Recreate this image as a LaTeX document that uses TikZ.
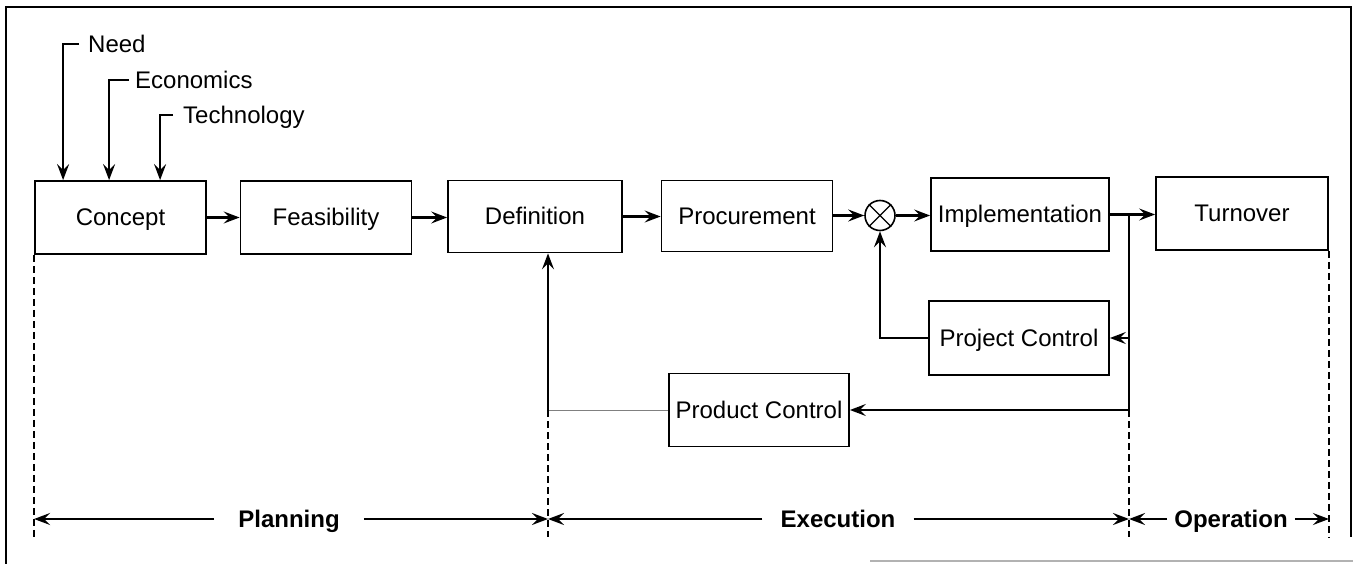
\documentclass[tikz,border=0pt]{standalone}
\usepackage{fontspec}
\setmainfont{Liberation Sans}
\usetikzlibrary{arrows.meta,calc}
\begin{document}
\begin{tikzpicture}[x=1pt,y=-1pt,
  every node/.style={font=\fontsize{24}{28}\selectfont,text height=17pt,text depth=0pt},
  stagebox/.style={draw,line width=1.8pt,inner sep=0pt,minimum height=73pt},
  lbl/.style={inner sep=0pt,anchor=west},
  phase/.style={inner ysep=0pt,font=\fontsize{24}{28}\selectfont\bfseries},
  arr/.style={line width=2.2pt,-{Stealth[length=16pt,width=12pt,inset=6pt]}},
  plain/.style={line width=2.2pt},
  thinline/.style={line width=1pt,gray},
  bound/.style={line width=2pt,dash pattern=on 7pt off 4pt}]
\useasboundingbox (0,0) rectangle (1353,564);
% frame
\draw[line width=2pt] (6,564) -- (6,7) -- (1351,7) -- (1351,537);
\draw[gray!60,line width=1.2pt] (870,561) -- (1353,561);
% boxes
\node[stagebox,minimum width=171pt] (concept) at (120.5,217.5) {Concept};
\node[stagebox,minimum width=171pt] (feas) at (326,217.5) {Feasibility};
\node[stagebox,minimum width=174pt,minimum height=72pt] (defn) at (535,216.5) {Definition};
\node[stagebox,minimum width=171pt,minimum height=71pt] (proc) at (747,216) {Procurement};
\node[draw,circle,line width=1.6pt,minimum size=30pt,inner sep=0pt,text height=0pt] (sum) at (880,215.5) {};
\draw[line width=1.3pt] (sum.north west) -- (sum.south east) (sum.north east) -- (sum.south west);
\node[stagebox,minimum width=178pt] (impl) at (1020,214.5) {Implementation};
\node[stagebox,minimum width=172pt] (turn) at (1242,213.5) {Turnover};
\node[stagebox,minimum width=180pt,minimum height=74pt] (proj) at (1019,338) {Project Control};
\node[stagebox,minimum width=180pt] (prod) at (759,410) {Product Control};
% inputs
\node[lbl] (need) at (88,44) {Need};
\node[lbl] (econ) at (135,80) {Economics};
\node[lbl] (tech) at (183,115) {Technology};
\draw[arr] ([xshift=-9pt]need.west) -| ([xshift=29pt]concept.north west);
\draw[arr] ([xshift=-6pt]econ.west) -| ([xshift=75pt]concept.north west);
\draw[arr] ([xshift=-10pt]tech.west) -| ([xshift=126pt]concept.north west);
% main flow
\draw[arr] (concept.east) -- (concept.east -| feas.west);
\draw[arr] (feas.east) -- (feas.east -| defn.west);
\draw[arr] (defn.east) -- (defn.east -| proc.west);
\draw[arr] (proc.east |- sum.west) -- (sum.west);
\draw[arr] (sum.east) -- (sum.east -| impl.west);
\draw[arr] (impl.east) -- (impl.east -| turn.west);
% feedback
\coordinate (br) at (1129,214.5);
\coordinate (pe) at ([xshift=13pt]defn.south);
\draw[plain] (br) -- (br |- prod.east);
\draw[arr] (br |- proj.east) -- (proj.east);
\draw[arr] (br |- prod.east) -- (prod.east);
\draw[arr] (proj.west) -| (sum.south);
\draw[thinline] (prod.west) -- (pe |- prod.west);
\draw[arr] (pe |- prod.west) -- (pe);
% phase boundaries
\draw[bound] (concept.south west) -- (concept.south west |- 0,537);
\draw[bound] (pe |- prod.west) -- (pe |- 0,537);
\draw[bound] (br |- prod.east) -- (br |- 0,537);
\draw[bound] (turn.south east) -- (turn.south east |- 0,537);
% phase labels
\node[phase,inner xsep=24pt] (plan) at (289,519) {Planning};
\node[phase,inner xsep=18pt] (exec) at (838,519) {Execution};
\node[phase,inner xsep=7pt] (oper) at (1231,519) {Operation};
\draw[arr] (plan.west) -- (plan.west -| concept.south west);
\draw[arr] (plan.east) -- (plan.east -| pe);
\draw[arr] (exec.west) -- (exec.west -| pe);
\draw[arr] (exec.east) -- (exec.east -| br);
\draw[arr] (oper.west) -- (oper.west -| br);
\draw[arr] (oper.east) -- (oper.east -| turn.south east);
\end{tikzpicture}
\end{document}
